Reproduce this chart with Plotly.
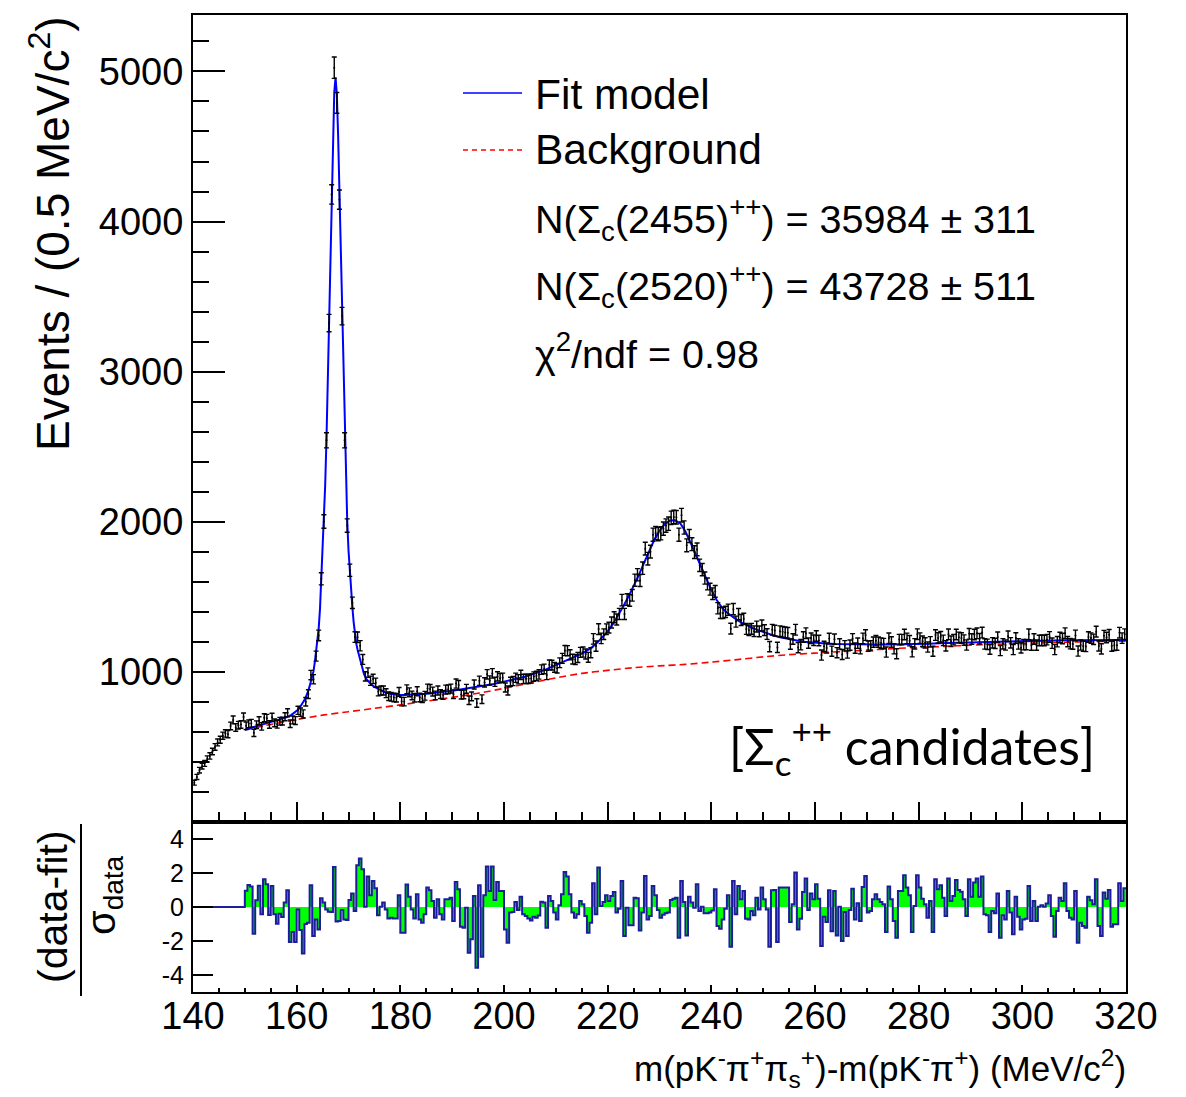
import plotly.graph_objects as go

# ---------------- data ----------------
bin_width = 0.5
x_low, x_high = 140.0, 320.0

# events per 0.5 MeV bin, bins from 140.0 to 320.0 (360 bins)
counts = [
    262, 300, 345, 372, 390, 420, 440, 470, 500, 530,
    548, 575, 590, 585, 640, 680, 630, 645, 650, 700,
    641, 654, 658, 594, 648, 675, 637, 695, 691, 650,
    698, 660, 651, 671, 672, 701, 727, 655, 680, 676,
    744, 732, 720, 801, 852, 979, 951, 1105, 1243, 1620,
    2002, 2543, 3324, 4181, 5025, 4791, 4146, 3370, 2543, 1975,
    1677, 1460, 1232, 1231, 1174, 1083, 970, 995, 941, 953,
    928, 870, 876, 876, 858, 838, 834, 830, 828, 867,
    802, 802, 884, 864, 843, 828, 871, 830, 825, 841,
    889, 886, 869, 843, 876, 852, 846, 882, 884, 889,
    851, 922, 912, 849, 850, 887, 811, 837, 916, 793,
    941, 818, 930, 984, 943, 990, 934,
    970, 958, 961, 896, 876, 934, 939, 961, 951, 980,
    953, 954, 954, 956, 969, 973, 983, 1015, 1020, 980,
    1047, 1045, 1030, 1025, 1061, 1090, 1142, 1141, 1114, 1085,
    1082, 1096, 1130, 1132, 1119, 1097, 1128, 1220, 1172, 1285,
    1223, 1251, 1284, 1295, 1329, 1364, 1349, 1386, 1478, 1386,
    1482, 1476, 1510, 1611, 1647, 1609, 1691, 1821, 1754, 1801,
    1914, 1925, 1917, 1923, 1954, 1975, 1987, 2026, 2032, 2030,
    1914, 2044, 1962, 1843, 1905, 1851, 1798, 1816, 1710, 1681,
    1625, 1586, 1551, 1521, 1536, 1424, 1393, 1393, 1400, 1414,
    1288, 1418, 1335, 1385, 1346, 1354, 1286, 1277, 1287, 1271,
    1302, 1270, 1309, 1278, 1252, 1168, 1281, 1275, 1163, 1271,
    1267, 1263, 1260, 1185, 1219, 1281,
    1162, 1181, 1232, 1258, 1192, 1224, 1211, 1239, 1209, 1112,
    1170, 1159, 1222, 1138, 1218, 1128, 1186, 1116, 1174, 1125,
    1178, 1220, 1158, 1191, 1154, 1223, 1245, 1171, 1174, 1198,
    1208, 1198, 1192, 1189, 1132, 1224, 1199, 1154, 1121, 1215,
    1215, 1249, 1223, 1208, 1134, 1187, 1251, 1225, 1204, 1193,
    1166, 1200, 1138, 1245, 1226, 1234, 1210, 1173, 1250, 1204,
    1215, 1249, 1230, 1226, 1212, 1179, 1254, 1219, 1249, 1257,
    1221, 1262, 1186, 1184, 1151, 1194, 1190, 1231, 1142, 1187,
    1179, 1237, 1194, 1149, 1226, 1186, 1160, 1181, 1182, 1250,
    1178, 1219, 1178, 1209, 1211, 1209, 1215, 1233, 1191, 1149,
    1201, 1229, 1222, 1258, 1202, 1188, 1185, 1243, 1139, 1179,
    1172, 1169, 1232, 1225, 1217, 1268, 1173, 1153, 1241, 1229,
    1247, 1172, 1177, 1178, 1261, 1225, 1251,
]

# (data - fit) / sigma_data per bin (360 bins)
pulls = [
    0, 0, 0, 0, 0, 0, 0, 0, 0, 0,
    0, 0, 0, 0, 0, 0, 0, 0, 0, 0,
    0.95, 1.3, 1.2, -1.57, 0.4, 1.25, -0.43, 1.63, 1.34, -0.47,
    1.24, -0.43, -0.98, -0.39, -0.59, 0.26, 0.98, -2.06, -1.47, -2.06,
    -0.14, -1.36, -2.73, -1.0, -0.93, 1.28, -1.71, -0.73, -1.32, 0.51,
    0.26, -0.14, -0.28, -0.3, 2.36, -0.85, -0.83, -0.18, -0.73, -0.77,
    0.41, 0.8, -0.24, 2.46, 2.85, 2.22, 0.02, 1.79, 0.69, 1.53,
    1.1, -0.49, 0.02, 0.26, -0.14, -0.67, -0.63, -0.67, -0.67, 0.69,
    -1.51, -1.51, 1.32, 0.6, -0.14, -0.67, 0.75, -0.73, -0.92, -0.43,
    1.14, 0.98, 0.35, -0.63, 0.45, -0.43, -0.73, 0.45, 0.45, 0.55,
    -0.83, 1.47, 1.04, -1.16, -1.22, -0.04, -2.69, -1.9, 0.65, -3.58,
    1.28, -2.93, 0.69, 2.38, 0.94, 2.38, 0.41,
    1.47, 0.94, 0.94, -1.32, -2.1, -0.33, -0.3, 0.3, -0.18, 0.6,
    -0.43, -0.53, -0.67, -0.79, -0.57, -0.63, -0.5, 0.31, 0.26, -1.22,
    0.65, 0.35, -0.33, -0.73, 0.1, 0.75, 2.06, 1.79, 0.75, -0.33,
    -0.63, -0.43, 0.35, 0.16, -0.53, -1.51, -0.92, 1.4, -0.43, 2.32,
    0.06, 0.3, 0.69, 0.35, 0.65, 0.88, -0.33, -0.1, 1.53, -1.71,
    -0.04, -1.08, -1.08, 0.55, 0.51, -1.38, -0.33, 1.83, -0.73, -0.53,
    1.24, 0.69, -0.18, -0.63, -0.45, -0.37, -0.33, 0.41, 0.49, 0.55,
    -1.81, 1.53, 0.3, -1.67, 0.6, 0.26, -0.04, 1.34, -0.24, 0.02,
    -0.37, -0.37, -0.33, -0.2, 1.04, -1.12, -1.28, -0.73, -0.1, 0.69,
    -2.34, 1.53, -0.43, 1.24, 0.45, 0.94, -0.69, -0.73, -0.24, -0.49,
    0.55, -0.14, 1.14, 0.45, -0.14, -2.34, 0.98, 1.0, -2.06, 1.14,
    1.14, 1.14, 1.14, -0.88, 0.16, 2.03,
    -1.32, -0.69, 0.88, 1.67, -0.18, 0.8, 0.45, 1.34, 0.49, -2.3,
    -0.57, -0.88, 0.98, -1.42, 0.94, -1.67, 0.02, -2.0, -0.3, -1.71,
    -0.18, 1.08, -0.73, 0.22, -0.83, 1.18, 1.83, -0.33, -0.24, 0.45,
    0.75, 0.45, 0.3, 0.16, -1.47, 1.2, 0.45, -0.83, -1.81, 0.94,
    0.94, 1.87, 1.14, 0.69, -1.47, 0.06, 1.87, 1.14, 0.49, 0.16,
    -0.63, 0.35, -1.47, 1.63, 1.04, 1.28, 0.55, -0.53, 1.67, 0.35,
    0.65, 1.59, 1.0, 0.9, 0.45, -0.53, 1.63, 0.6, 1.44, 1.67,
    0.6, 1.79, -0.43, -0.49, -1.47, -0.24, -0.37, 0.8, -1.81, -0.49,
    -0.73, 0.94, -0.33, -1.61, 0.6, -0.57, -1.32, -0.73, -0.69, 1.24,
    -0.83, 0.35, -0.83, 0.02, 0.1, 0.02, 0.2, 0.69, -0.53, -1.75,
    -0.24, 0.55, 0.35, 1.4, -0.24, -0.63, -0.73, 0.94, -2.1, -0.92,
    -1.12, -1.22, 0.6, 0.4, 0.16, 1.63, -1.12, -1.71, 0.85, 0.49,
    1.0, -1.16, -1.02, -1.02, 1.4, 0.35, 1.1,
]

# fit model curve samples
fit_x = ([150, 151, 152, 153, 154, 155, 156, 157, 158, 159, 160]
         + [160 + 0.25 * k for k in range(1, 53)]
         + [173.5, 174, 174.5, 175, 175.5, 176, 176.5, 177]
         + list(range(178, 261))
         + list(range(262, 301, 2))
         + [304, 308, 312, 316, 320])
fit_y = [615, 625, 636, 646, 655, 664, 673, 684, 697, 714, 738,
         748, 758, 770, 783, 797, 812, 830, 850, 875, 905, 935, 960,
         1005, 1065, 1130, 1200, 1290, 1420, 1600, 1780, 1990, 2240, 2550, 2920,
         3340, 3780, 4200, 4580, 4860, 4960,
         4850, 4570, 4200, 3790, 3380, 2960, 2580, 2270, 2010, 1810, 1660, 1530,
         1430, 1330, 1240, 1190, 1148, 1115, 1080, 1045, 1012, 985,
         950, 928, 913, 900, 890, 881, 872, 865,
         855, 849, 846, 846, 847, 849, 852, 855, 858, 862, 866, 870, 875,
         880, 885, 890, 896, 902, 908, 914, 920, 927, 934,
         942, 950, 959, 968, 978, 990, 1002, 1015, 1030, 1045,
         1062, 1078, 1092, 1106, 1122, 1142, 1165, 1195, 1230, 1270,
         1318, 1375, 1435, 1500, 1570, 1645, 1725, 1805, 1880, 1940,
         1985, 2008, 2010, 1990, 1935, 1860, 1780, 1700, 1620, 1545,
         1480, 1430, 1395, 1368, 1345, 1325, 1307, 1292, 1278, 1265,
         1254, 1243, 1233, 1225, 1218, 1212, 1206, 1201, 1197, 1194,
         1189, 1186, 1184, 1183, 1182, 1182, 1183, 1183, 1184, 1186,
         1188, 1190, 1192, 1195, 1198, 1200, 1202, 1204, 1205, 1206,
         1208, 1210, 1211, 1212, 1213]

# background component samples
bkg_x = [150, 152, 155, 158, 160] + list(range(165, 321, 5))
bkg_y = [613, 628, 650, 670, 683,
         712, 735, 757, 780, 805, 830, 858, 890, 925, 960, 990, 1010,
         1028, 1040, 1050, 1065, 1082, 1100, 1115, 1125, 1135, 1145,
         1155, 1163, 1170, 1178, 1184, 1190, 1195, 1199, 1202, 1205]

legend_labels = ["Fit model", "Background"]
yield_lines = ["N(Σ<sub>c</sub>(2455)<sup>++</sup>) = 35984 ± 311",
               "N(Σ<sub>c</sub>(2520)<sup>++</sup>) = 43728 ± 511",
               "χ<sup>2</sup>/ndf = 0.98"]

# ---------------- derived ----------------
n_bins = len(counts)
centers = [x_low + bin_width * (i + 0.5) for i in range(n_bins)]
errors = [c ** 0.5 for c in counts]
edges = [x_low + bin_width * i for i in range(len(pulls) + 1)]
pull_steps = pulls + [pulls[-1]]

# ---------------- layout geometry (pixels) ----------------
W, H = 1186, 1097
PL, PR, PT, PB = 193, 1126, 15, 992
SPLIT = 822


def fx(px):
    return (px - PL) / (PR - PL)


def fy(py):
    return (PB - py) / (PB - PT)


split_frac = fy(SPLIT)
FONT = "Liberation Sans, Arial, Helvetica, sans-serif"

fig = go.Figure()

fig.add_trace(go.Scatter(
    x=bkg_x, y=bkg_y, mode="lines", line=dict(color="#ff0000", width=1.6, dash="7px,4px", shape="spline", smoothing=0.6),
    xaxis="x", yaxis="y", hoverinfo="skip"))
fig.add_trace(go.Scatter(
    x=fit_x, y=fit_y, mode="lines", line=dict(color="#0000ff", width=2),
    xaxis="x", yaxis="y", hoverinfo="skip"))
fig.add_trace(go.Scatter(
    x=centers, y=counts, mode="markers",
    marker=dict(color="black", size=2),
    error_y=dict(type="data", array=errors, color="black", thickness=1.4, width=2.5),
    xaxis="x", yaxis="y"))

fig.add_trace(go.Scatter(
    x=edges, y=pull_steps, mode="lines", line=dict(color="#1c1c9c", width=2, shape="hv"),
    fill="tozeroy", fillcolor="#00ff00", xaxis="x2", yaxis="y2", hoverinfo="skip"))

axis_common = dict(showgrid=False, zeroline=False, showline=True, linecolor="black",
                   linewidth=2, mirror=True, ticks="inside", tickcolor="black", tickwidth=1.5)

fig.update_layout(
    width=W, height=H, autosize=False,
    margin=dict(l=PL, r=W - PR, t=PT, b=H - PB),
    paper_bgcolor="white", plot_bgcolor="white",
    showlegend=False,
    font=dict(family=FONT, color="black"),
    xaxis=dict(domain=[0, 1], anchor="y", range=[x_low, x_high], showticklabels=False,
               tick0=140, dtick=20, ticklen=20,
               minor=dict(dtick=5, tick0=140, ticklen=10, ticks="inside", tickcolor="black"),
               **axis_common),
    yaxis=dict(domain=[split_frac, 1], anchor="x", range=[0, 5376],
               tickmode="array", tickvals=[1000, 2000, 3000, 4000, 5000],
               ticktext=["1000", "2000", "3000", "4000", "5000"],
               ticklen=32, tickfont=dict(size=38, family=FONT), ticklabelstandoff=0,
               minor=dict(tickmode="linear", tick0=0, dtick=200, ticklen=16, ticks="inside", tickcolor="black"),
               **axis_common),
    xaxis2=dict(domain=[0, 1], anchor="y2", range=[x_low, x_high],
                tick0=140, dtick=20, ticklen=7, tickfont=dict(size=38, family=FONT),
                ticklabelstandoff=-11,
                minor=dict(dtick=5, tick0=140, ticklen=4, ticks="inside", tickcolor="black"),
                **axis_common),
    yaxis2=dict(domain=[0, split_frac], anchor="x2", range=[-5, 5],
                tickmode="array", tickvals=[-4, -2, 0, 2, 4], ticktext=["-4", "-2", "0", "2", "4"],
                ticklen=20, tickfont=dict(size=25, family=FONT), ticklabelstandoff=2,
                **axis_common),
)

ann = []
ann.append(dict(text=legend_labels[0], x=fx(533), y=fy(94), xanchor="left", yanchor="middle",
                font=dict(size=42.5, family=FONT)))
ann.append(dict(text=legend_labels[1], x=fx(533), y=fy(149), xanchor="left", yanchor="middle",
                font=dict(size=42.5, family=FONT)))
for txt, ypx in zip(yield_lines, [219, 286, 351]):
    ann.append(dict(text=txt, x=fx(533), y=fy(ypx), xanchor="left", yanchor="middle",
                    font=dict(size=39.5, family=FONT)))
ann.append(dict(text="[Σ<sub>c</sub><sup>++</sup> candidates]", x=fx(1097), y=fy(746),
                xanchor="right", yanchor="middle", font=dict(size=50, family="Lato, Open Sans, sans-serif")))
ann.append(dict(text="Events / (0.5 MeV/c<sup>2</sup>)", x=fx(50), y=fy(234), textangle=-90,
                xanchor="center", yanchor="middle", font=dict(size=46, family=FONT)))
ann.append(dict(text="m(pK<sup>-</sup>π<sup>+</sup>π<sub>s</sub><sup>+</sup>)-m(pK<sup>-</sup>π<sup>+</sup>) (MeV/c<sup>2</sup>)",
                x=fx(1128), y=fy(1068), xanchor="right", yanchor="middle",
                font=dict(size=35, family=FONT)))
ann.append(dict(text="(data-fit)", x=fx(53), y=fy(907), textangle=-90,
                xanchor="center", yanchor="middle", font=dict(size=41, family=FONT)))
ann.append(dict(text="σ<sub>data</sub>", x=fx(104), y=fy(895), textangle=-90,
                xanchor="center", yanchor="middle", font=dict(size=40, family=FONT)))
for a in ann:
    a.update(xref="paper", yref="paper", showarrow=False)
fig.update_layout(annotations=ann)

shapes = [
    dict(type="line", xref="paper", yref="paper", x0=fx(463), x1=fx(522), y0=fy(93), y1=fy(93),
         line=dict(color="#0000ff", width=1.5)),
    dict(type="line", xref="paper", yref="paper", x0=fx(463), x1=fx(522), y0=fy(150), y1=fy(150),
         line=dict(color="#ff0000", width=1.5, dash="5px,4px")),
    dict(type="line", xref="paper", yref="paper", x0=fx(81), x1=fx(81), y0=fy(824), y1=fy(996),
         line=dict(color="black", width=2)),
]
fig.update_layout(shapes=shapes)

fig.write_html("out.html")
